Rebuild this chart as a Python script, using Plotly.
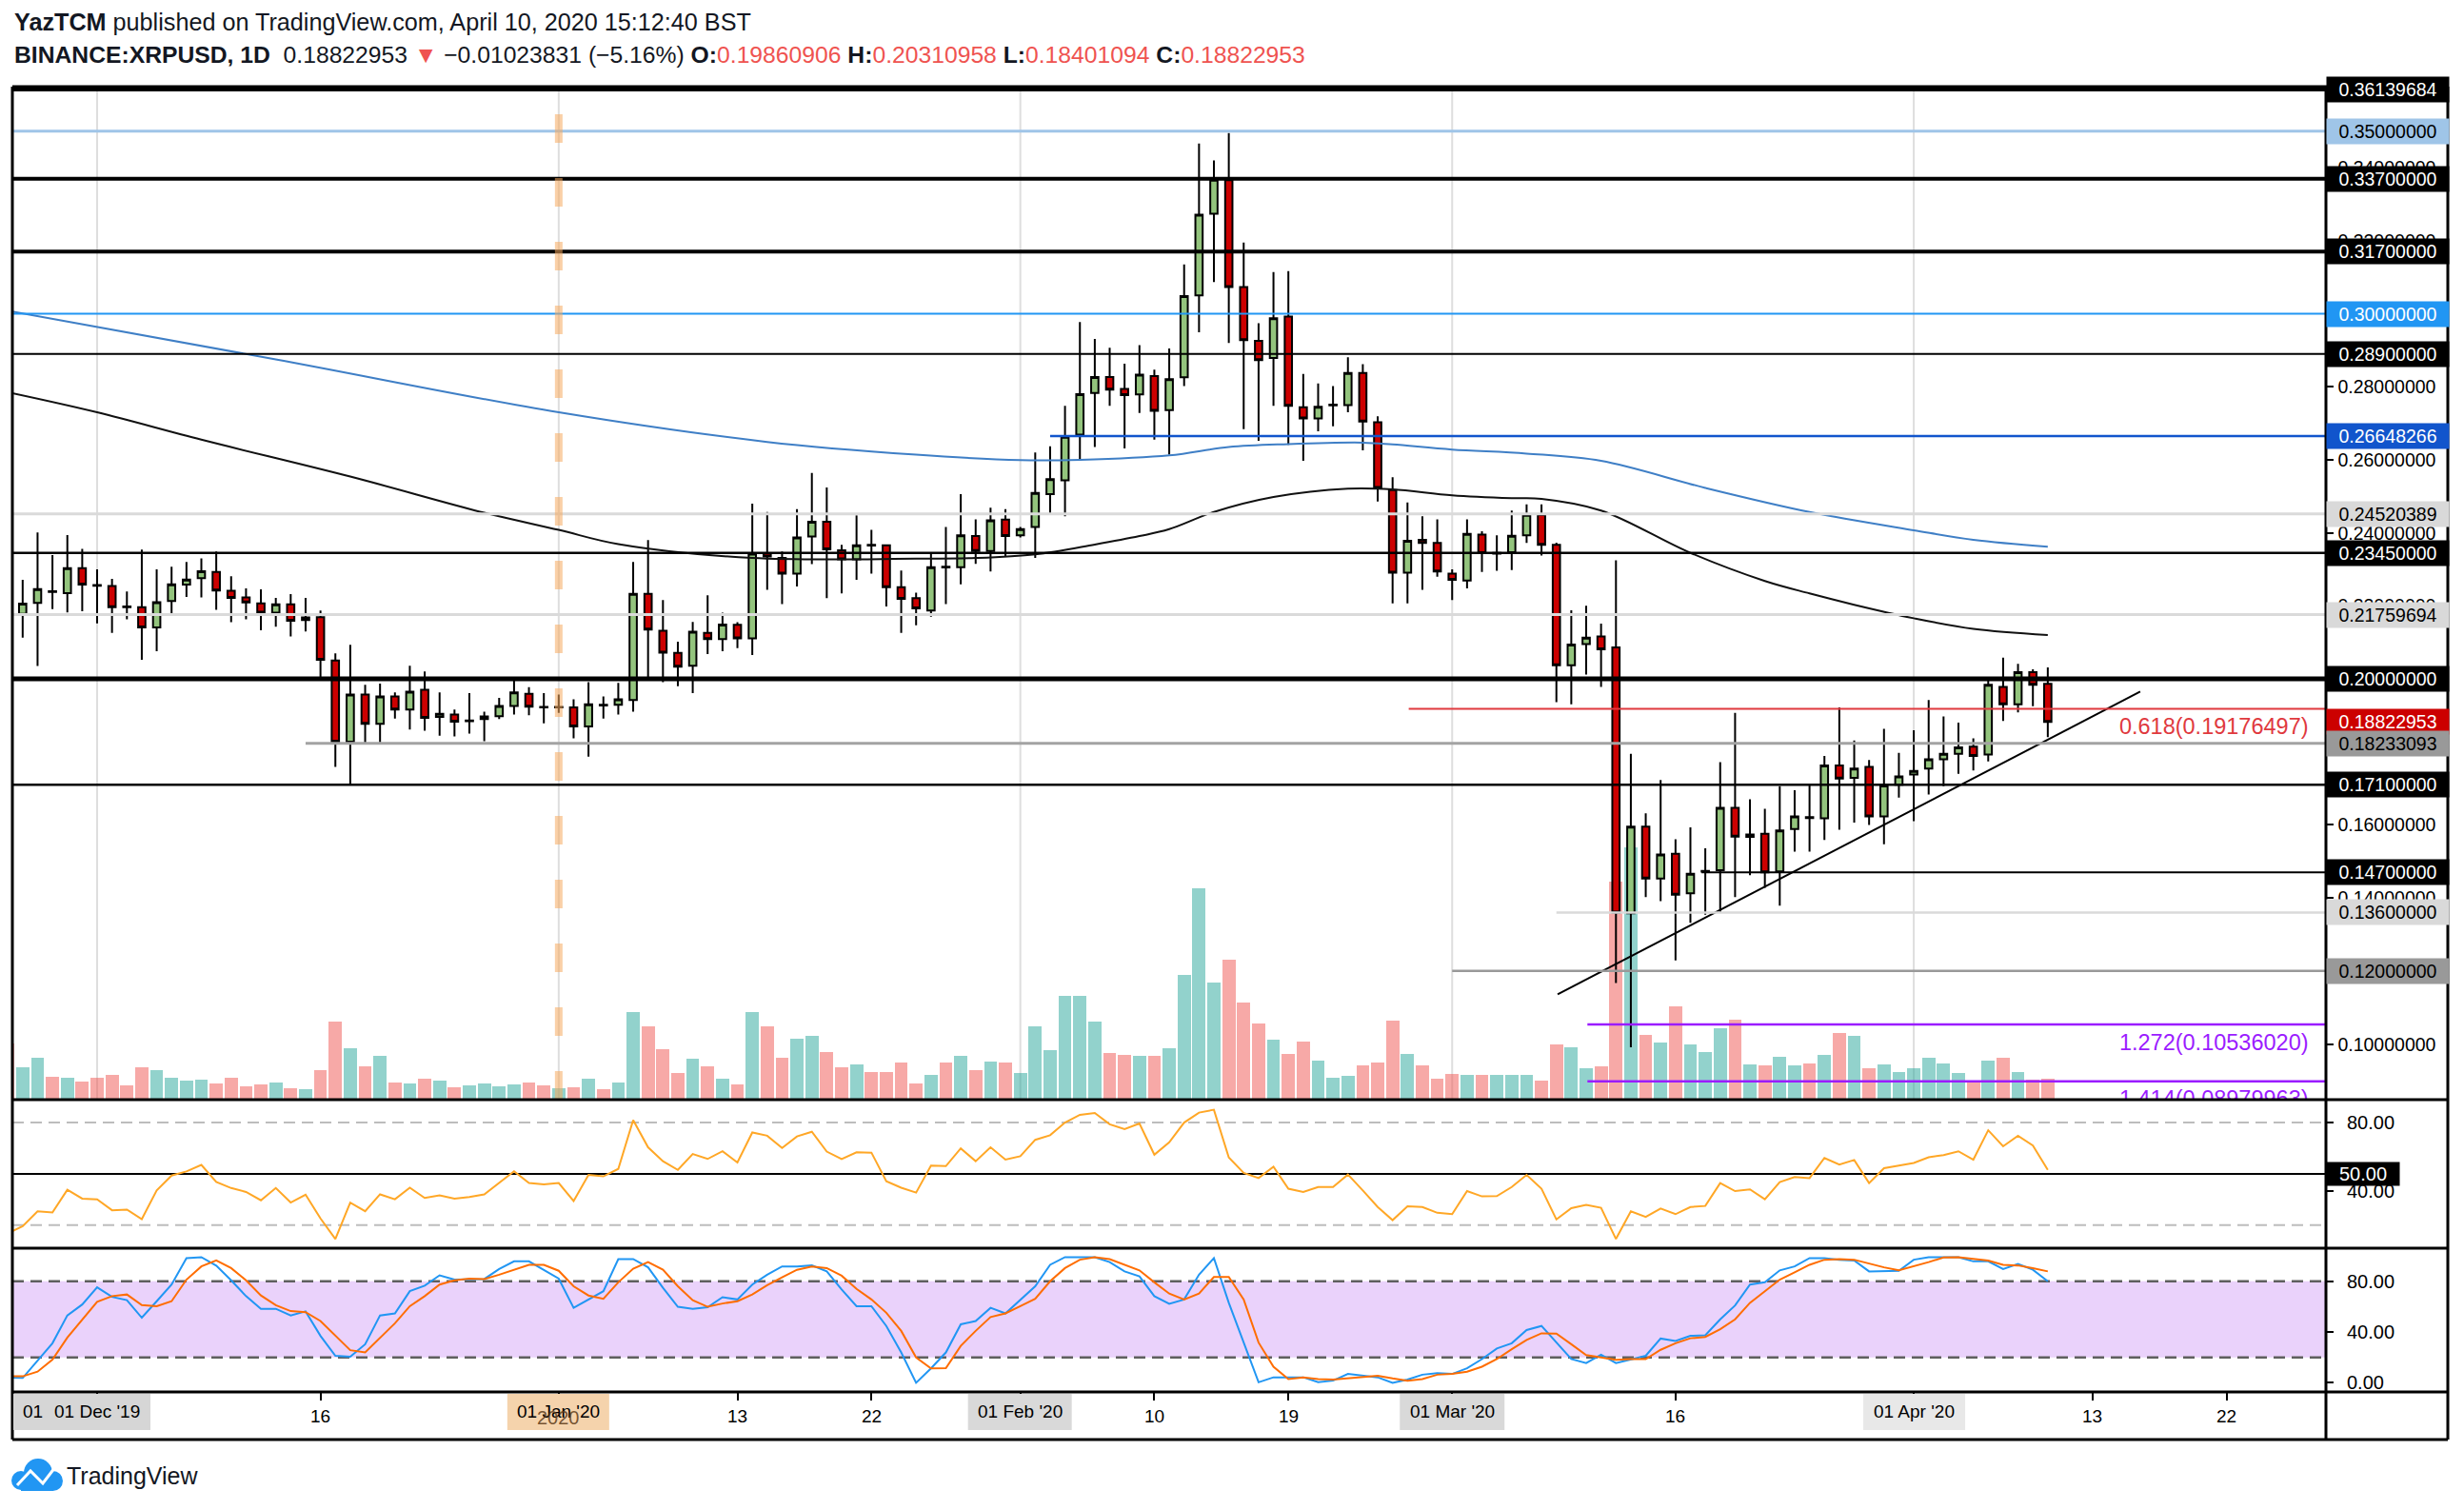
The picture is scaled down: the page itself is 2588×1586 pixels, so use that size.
import plotly.graph_objects as go
import pandas as pd

# ---------------- data ----------------
dates = pd.date_range("2019-11-25", "2020-04-10", freq="D")

opens = [0.2200, 0.2178, 0.2208, 0.2238, 0.2235, 0.2303,
         0.2257, 0.2254, 0.2198, 0.2196, 0.2141, 0.2213, 0.2258, 0.2276, 0.2293, 0.2241, 0.2223, 0.2207, 0.2181, 0.2204, 0.2161, 0.2169, 0.2050, 0.1828, 0.1957, 0.1877, 0.1952, 0.1916, 0.1970, 0.1896, 0.1902, 0.1886, 0.1890, 0.1898, 0.1926, 0.1959, 0.1923,
         0.1922, 0.1922, 0.1870, 0.1927, 0.1929, 0.1942, 0.2233, 0.2132, 0.2071, 0.2036, 0.2126, 0.2109, 0.2148, 0.2111, 0.2344, 0.2331, 0.2288, 0.2390, 0.2430, 0.2352, 0.2327, 0.2367, 0.2366, 0.2251, 0.2221, 0.2187, 0.2305, 0.2306, 0.2391, 0.2350, 0.2436,
         0.2393, 0.2416, 0.2506, 0.2544, 0.2669, 0.2783, 0.2827, 0.2794, 0.2779, 0.2829, 0.2736, 0.2826, 0.3050, 0.3274, 0.3366, 0.3073, 0.2926, 0.2879, 0.2992, 0.2744, 0.2713, 0.2749, 0.2750, 0.2838, 0.2703, 0.2517, 0.2291, 0.2381, 0.2372,
         0.2288, 0.2269, 0.2395, 0.2343, 0.2347, 0.2393, 0.2449, 0.2367, 0.2037, 0.2095, 0.2116, 0.2086, 0.1358, 0.1595, 0.1453, 0.1521, 0.1413, 0.1472, 0.1476, 0.1647, 0.1567, 0.1576, 0.1473, 0.1589, 0.1621, 0.1618, 0.1763, 0.1729, 0.1759, 0.1623, 0.1710,
         0.1738, 0.1754, 0.1780, 0.1795, 0.1814, 0.1793, 0.1978, 0.1930, 0.2018, 0.19860906]
highs = [0.2230, 0.2271, 0.2401, 0.2339, 0.2394, 0.2356,
         0.2300, 0.2274, 0.2239, 0.2354, 0.2300, 0.2307, 0.2320, 0.2330, 0.2349, 0.2281, 0.2248, 0.2245, 0.2222, 0.2232, 0.2222, 0.2187, 0.2070, 0.2093, 0.1984, 0.1987, 0.1963, 0.2036, 0.2020, 0.1963, 0.1916, 0.1961, 0.1910, 0.1948, 0.1996, 0.1977, 0.1961,
         0.1957, 0.1944, 0.1991, 0.1952, 0.1989, 0.2320, 0.2380, 0.2216, 0.2102, 0.2156, 0.2229, 0.2181, 0.2155, 0.2480, 0.2457, 0.2349, 0.2465, 0.2564, 0.2524, 0.2367, 0.2448, 0.2408, 0.2367, 0.2297, 0.2236, 0.2343, 0.2416, 0.2506, 0.2437, 0.2469, 0.2465,
         0.2416, 0.2620, 0.2637, 0.2748, 0.2977, 0.2931, 0.2907, 0.2863, 0.2914, 0.2847, 0.2905, 0.3135, 0.3466, 0.3420, 0.3495, 0.3195, 0.2974, 0.3114, 0.3117, 0.2835, 0.2809, 0.2802, 0.2881, 0.2862, 0.2719, 0.2552, 0.2483, 0.2445, 0.2437,
         0.2300, 0.2437, 0.2404, 0.2393, 0.2461, 0.2478, 0.2478, 0.2373, 0.2188, 0.2200, 0.2151, 0.2325, 0.1795, 0.1632, 0.1723, 0.1561, 0.1593, 0.1536, 0.1772, 0.1907, 0.1670, 0.1644, 0.1706, 0.1695, 0.1710, 0.1789, 0.1922, 0.1831, 0.1778, 0.1863, 0.1797,
         0.1859, 0.1942, 0.1897, 0.1880, 0.1837, 0.1995, 0.2058, 0.2041, 0.2026, 0.20310958]
lows = [0.2150, 0.2113, 0.2035, 0.2191, 0.2182, 0.2185,
        0.2152, 0.2126, 0.2163, 0.2052, 0.2076, 0.2178, 0.2224, 0.2223, 0.2189, 0.2155, 0.2163, 0.2133, 0.2143, 0.2116, 0.2130, 0.2004, 0.1759, 0.1711, 0.1824, 0.1826, 0.1891, 0.1861, 0.1858, 0.1844, 0.1842, 0.1850, 0.1829, 0.1890, 0.1902, 0.1900, 0.1878,
        0.1907, 0.1837, 0.1787, 0.1891, 0.1902, 0.1910, 0.2004, 0.1991, 0.1980, 0.1961, 0.2068, 0.2076, 0.2084, 0.2065, 0.2244, 0.2205, 0.2253, 0.2314, 0.2221, 0.2234, 0.2271, 0.2288, 0.2198, 0.2126, 0.2147, 0.2170, 0.2205, 0.2259, 0.2315, 0.2294, 0.2335,
        0.2387, 0.2331, 0.2453, 0.2445, 0.2597, 0.2635, 0.2748, 0.2631, 0.2728, 0.2655, 0.2614, 0.2802, 0.2949, 0.3087, 0.2920, 0.2684, 0.2652, 0.2748, 0.2641, 0.2597, 0.2678, 0.2692, 0.2730, 0.2626, 0.2486, 0.2207, 0.2207, 0.2244, 0.2280,
        0.2216, 0.2248, 0.2293, 0.2296, 0.2298, 0.2372, 0.2338, 0.1936, 0.1930, 0.2012, 0.1978, 0.1167, 0.0991, 0.1402, 0.1391, 0.1229, 0.1332, 0.1354, 0.1360, 0.1402, 0.1462, 0.1428, 0.1379, 0.1527, 0.1527, 0.1559, 0.1587, 0.1606, 0.1600, 0.1547, 0.1675,
        0.1610, 0.1683, 0.1706, 0.1740, 0.1749, 0.1774, 0.1885, 0.1908, 0.1925, 0.18401094]
closes = [0.2180, 0.2206, 0.2246, 0.2240, 0.2303, 0.2258,
          0.2255, 0.2196, 0.2196, 0.2141, 0.2210, 0.2259, 0.2272, 0.2295, 0.2242, 0.2222, 0.2209, 0.2181, 0.2204, 0.2159, 0.2168, 0.2052, 0.1828, 0.1957, 0.1877, 0.1952, 0.1916, 0.1965, 0.1893, 0.1904, 0.1883, 0.1884, 0.1897, 0.1926, 0.1963, 0.1924, 0.1922,
          0.1923, 0.1870, 0.1930, 0.1929, 0.1944, 0.2233, 0.2135, 0.2072, 0.2033, 0.2129, 0.2109, 0.2149, 0.2111, 0.2343, 0.2335, 0.2288, 0.2387, 0.2430, 0.2355, 0.2327, 0.2366, 0.2365, 0.2251, 0.2219, 0.2193, 0.2306, 0.2307, 0.2393, 0.2350, 0.2434, 0.2391,
          0.2410, 0.2509, 0.2547, 0.2663, 0.2780, 0.2827, 0.2792, 0.2777, 0.2833, 0.2734, 0.2821, 0.3048, 0.3271, 0.3367, 0.3073, 0.2928, 0.2873, 0.2988, 0.2748, 0.2713, 0.2745, 0.2751, 0.2838, 0.2705, 0.2523, 0.2291, 0.2378, 0.2372, 0.2294,
          0.2271, 0.2397, 0.2344, 0.2345, 0.2392, 0.2449, 0.2367, 0.2037, 0.2094, 0.2113, 0.2081, 0.1360, 0.1595, 0.1453, 0.1519, 0.1409, 0.1466, 0.1474, 0.1647, 0.1568, 0.1574, 0.1470, 0.1585, 0.1623, 0.1619, 0.1763, 0.1727, 0.1754, 0.1623, 0.1708, 0.1733,
          0.1748, 0.1780, 0.1795, 0.1812, 0.1789, 0.1984, 0.1930, 0.2018, 0.1984, 0.18822953]

# volume (arbitrary units) and bar direction (U = teal, D = red)
volumes = [59, 34, 44, 24, 23, 19,
           23, 26, 15, 34, 31, 23, 20, 21, 17, 23, 14, 16, 18, 12, 11, 31, 82, 54, 35, 46, 18, 17, 22, 20, 13, 15, 17, 14, 16, 18, 15,
           12, 13, 22, 11, 18, 92, 77, 53, 28, 43, 35, 22, 16, 92, 77, 44, 64, 67, 50, 34, 37, 29, 29, 39, 17, 26, 39, 46, 31, 40, 39,
           28, 77, 52, 109, 109, 82, 49, 47, 46, 46, 54, 131, 222, 123, 147, 102, 80, 63, 48, 61, 41, 23, 25, 36, 39, 83, 48, 36, 22,
           27, 26, 26, 26, 26, 26, 20, 58, 55, 33, 35, 229, 265, 68, 60, 98, 58, 50, 75, 84, 37, 36, 45, 36, 38, 47, 70, 67, 33, 37, 29,
           33, 44, 38, 28, 19, 41, 44, 29, 21, 22]
vol_dir = ("DUUDUD"
           "DDDDUUUUDDDDUDUDDUDUDUDUDUUUUDD"
           "UDUDUUDDDUDUDUDDUUDDUDDDDUDUDUD"
           "UUUUUUDDUDUUUUDDDUDDUUUDDDUDD"
           "DUDUUUDDUUDDUDUDUUUDUDUUDUDUDUU"
           "UUUUDUDUDD")

rsi = [15.2, 19.4, 28.1, 27.4, 40.7, 35.5,
       35.1, 28.7, 29.1, 23.5, 40.3, 49.0, 51.4, 55.2, 45.2, 41.7, 39.4, 34.5, 41.7, 33.2, 37.8, 23.9, 11.9, 33.2, 28.1, 38.0, 35.1, 41.9, 35.9, 37.4, 35.5, 36.5, 38.0, 44.6, 51.5, 44.6, 43.8,
       44.6, 34.1, 49.4, 48.5, 52.9, 81.4, 65.5, 57.4, 52.3, 61.6, 58.7, 63.2, 56.6, 74.2, 72.3, 65.1, 71.9, 74.6, 63.0, 58.7, 62.6, 62.4, 45.7, 41.9, 39.0, 54.8, 54.5, 64.9, 57.4, 65.5, 58.3,
       60.3, 69.9, 72.6, 80.0, 84.5, 85.6, 79.0, 76.1, 79.4, 61.2, 68.4, 80.0, 85.8, 87.5, 59.6, 50.6, 47.5, 54.2, 41.3, 39.4, 42.3, 42.3, 49.6, 40.3, 30.6, 22.9, 31.0, 30.6, 27.2,
       26.4, 39.9, 36.8, 37.0, 42.3, 49.4, 41.3, 23.3, 29.9, 31.8, 30.1, 11.9, 28.1, 24.8, 29.7, 26.4, 30.6, 31.2, 44.6, 39.9, 40.9, 35.1, 45.2, 48.1, 47.5, 59.3, 55.4, 58.1, 44.6, 53.3, 54.8,
       56.4, 59.7, 61.0, 63.2, 58.3, 75.5, 66.1, 72.3, 66.5, 52.3]

stoch_k = [4.3, 3.8, 17.4, 31.2, 53.1, 61.7,
           75.3, 67.7, 65.1, 51.3, 64.3, 77.4, 98.3, 99.0, 92.3, 80.8, 68.3, 58.3, 58.3, 53.1, 56.3, 37.0, 21.3, 20.5, 30.4, 53.1, 54.7, 72.2, 76.6, 84.7, 81.3, 81.8, 81.8, 89.7, 95.7, 95.7, 88.6,
           82.1, 59.1, 65.7, 72.2, 97.5, 97.5, 91.0, 74.8, 59.9, 58.3, 59.6, 67.5, 65.7, 77.4, 85.2, 91.7, 91.7, 92.5, 87.8, 73.5, 60.4, 60.4, 44.8, 23.9, 0.0, 11.4, 23.9, 46.1, 48.7, 59.1, 54.7,
           65.1, 76.1, 93.0, 99.0, 99.0, 99.0, 95.1, 87.8, 83.9, 68.3, 62.3, 65.7, 85.2, 98.3, 63.0, 31.7, 0.4, 4.3, 4.3, 4.3, 0.5, 1.7, 7.0, 5.6, 4.3, 0.0, 2.5, 6.4, 7.7,
           7.0, 11.4, 18.7, 27.0, 31.2, 41.6, 44.8, 31.7, 18.7, 15.6, 22.1, 15.6, 18.7, 21.3, 34.9, 33.0, 37.0, 37.5, 50.0, 61.0, 77.4, 79.2, 88.6, 91.7, 98.3, 98.3, 97.0, 96.4, 87.8, 88.3, 88.3,
           97.0, 99.0, 99.0, 99.0, 95.7, 95.7, 89.7, 93.6, 89.1, 80.0]
stoch_d = [5.1, 5.1, 8.8, 18.2, 35.6, 50.0,
           63.8, 68.3, 69.6, 61.2, 60.4, 64.3, 81.3, 91.7, 96.4, 90.4, 80.8, 68.8, 61.2, 56.5, 55.7, 48.7, 37.5, 25.7, 23.9, 35.6, 46.9, 60.4, 68.3, 77.4, 80.8, 82.1, 81.8, 85.2, 89.1, 93.0, 93.0,
           88.3, 76.1, 68.8, 66.2, 79.2, 89.9, 95.1, 89.1, 76.1, 65.1, 59.9, 62.5, 64.3, 69.6, 76.9, 83.1, 89.1, 91.7, 90.4, 84.4, 74.0, 65.7, 55.2, 40.9, 20.0, 11.4, 11.6, 29.1, 40.9, 51.8, 54.7,
           60.4, 66.2, 80.0, 90.4, 97.0, 99.0, 97.5, 93.0, 88.6, 79.2, 70.3, 65.7, 70.3, 83.4, 83.4, 65.7, 31.7, 12.7, 3.0, 4.3, 3.0, 2.5, 3.5, 4.9, 5.6, 3.5, 1.7, 3.0, 6.4,
           7.0, 8.8, 12.7, 18.7, 26.5, 33.8, 39.0, 38.8, 30.4, 21.8, 20.0, 18.2, 18.7, 18.7, 26.0, 31.2, 35.1, 36.2, 42.2, 50.0, 63.0, 72.2, 81.3, 87.0, 93.0, 97.0, 97.5, 97.0, 93.8, 91.0, 88.6,
           91.7, 95.1, 98.8, 99.0, 97.7, 96.4, 93.0, 92.5, 90.4, 87.8]

ma100_dates = ["2019-11-25", "2019-12-01", "2019-12-08", "2019-12-18", "2019-12-27", "2020-01-01", "2020-01-05",
               "2020-01-14", "2020-01-25", "2020-01-29", "2020-02-02", "2020-02-06", "2020-02-09", "2020-02-11",
               "2020-02-14", "2020-02-18", "2020-02-23", "2020-02-26", "2020-03-01", "2020-03-05", "2020-03-07",
               "2020-03-11", "2020-03-17", "2020-03-22", "2020-03-25", "2020-03-28", "2020-04-01", "2020-04-05", "2020-04-10"]
ma100_vals = [0.2785, 0.2730, 0.2655, 0.2554, 0.2455, 0.2408, 0.2369, 0.2331, 0.2329, 0.2331, 0.2341, 0.2368, 0.2391,
              0.2410, 0.2457, 0.2498, 0.2521, 0.2519, 0.2503, 0.2495, 0.2493, 0.2461, 0.2345, 0.2268, 0.2234, 0.2203,
              0.2166, 0.2137, 0.2120]
ma200_dates = ["2019-11-25", "2019-12-13", "2020-01-01", "2020-01-15", "2020-01-25", "2020-02-01", "2020-02-05",
               "2020-02-11", "2020-02-15", "2020-02-19", "2020-02-24", "2020-02-26", "2020-03-01", "2020-03-06",
               "2020-03-11", "2020-03-18", "2020-03-25", "2020-04-01", "2020-04-05", "2020-04-10"]
ma200_vals = [0.3008, 0.2875, 0.2730, 0.2649, 0.2614, 0.2599, 0.2600, 0.2612, 0.2635, 0.2643, 0.2647, 0.2642, 0.2628,
              0.2617, 0.2597, 0.2523, 0.2457, 0.2407, 0.2381, 0.2362]

trend_dates = ["2020-03-08 02:00", "2020-04-16 05:00"]
trend_vals = [0.1136, 0.1965]

# horizontal levels: value, start date (None = full width)
level_values = [0.36139684, 0.35, 0.337, 0.317, 0.30, 0.289, 0.26648266, 0.24520389, 0.2345, 0.21759694,
                0.20, 0.18233093, 0.171, 0.147, 0.136, 0.12]
level_starts = [None, None, None, None, None, None, "2020-02-03", None, None, None,
                None, "2019-12-15", None, "2020-03-17 18:00", "2020-03-08", "2020-03-01"]

fib_values = [0.19176497, 0.10536020, 0.08979963]
fib_labels = ["0.618(0.19176497)", "1.272(0.10536020)", "1.414(0.08979963)"]
fib_starts = ["2020-02-27 02:00", "2020-03-10 02:00", "2020-03-10 02:00"]

price_ticks = [0.34, 0.32, 0.28, 0.26, 0.24, 0.22, 0.16, 0.14, 0.10]
box_values = [0.36139684, 0.35, 0.337, 0.317, 0.30, 0.289, 0.26648266, 0.24520389, 0.2345, 0.21759694,
              0.20, 0.18822953, 0.18233093, 0.171, 0.147, 0.136, 0.12]

x_tick_dates = ["2019-12-01", "2019-12-16", "2020-01-01", "2020-01-13", "2020-01-22", "2020-02-01",
                "2020-02-10", "2020-02-19", "2020-03-01", "2020-03-16", "2020-04-01", "2020-04-13", "2020-04-22"]
x_tick_labels = ["01 Dec '19", "16", "01 Jan '20", "13", "22", "01 Feb '20", "10", "19", "01 Mar '20", "16",
                 "01 Apr '20", "13", "22"]

# ---------------- styling helpers ----------------
W, H = 2588, 1586
L, R, T, B = 13, 2443, 91, 1462
PX_PER_PRICE = 3835.0


def px(X):
    return (X - L) / (R - L)


def py(Y):
    return (B - Y) / (B - T)


FONT = "Liberation Sans, Arial, sans-serif"
TXT = "#131722"
XR = ["2019-11-25 07:25", "2020-04-28 16:20"]

fig = go.Figure()

# volume (base axis, drawn below)
vol_colors = ["rgba(38,166,154,0.5)" if d == "U" else "rgba(239,83,80,0.5)" for d in vol_dir]
fig.add_trace(go.Bar(x=dates, y=volumes, marker=dict(color=vol_colors, line_width=0),
                     width=0.88 * 86400000, yaxis="y", xaxis="x", showlegend=False, hoverinfo="skip"))

# moving averages
fig.add_trace(go.Scatter(x=ma200_dates, y=ma200_vals, mode="lines", line=dict(color="#3f7fc6", width=2, shape="spline"),
                         yaxis="y2", showlegend=False, hoverinfo="skip"))
fig.add_trace(go.Scatter(x=ma100_dates, y=ma100_vals, mode="lines", line=dict(color="#111111", width=2, shape="spline"),
                         yaxis="y2", showlegend=False, hoverinfo="skip"))

# candles
fig.add_trace(go.Candlestick(x=dates, open=opens, high=highs, low=lows, close=closes, yaxis="y2", xaxis="x",
                             increasing=dict(line=dict(color="black", width=2), fillcolor="#93c47d"),
                             decreasing=dict(line=dict(color="black", width=2), fillcolor="#cc0000"),
                             whiskerwidth=0, showlegend=False, hoverinfo="skip"))

# trend line
fig.add_trace(go.Scatter(x=trend_dates, y=trend_vals, mode="lines", line=dict(color="black", width=2),
                         yaxis="y2", showlegend=False, hoverinfo="skip"))

# fib labels (clipped by the price pane), placed just under their lines
fib_colors = ["#e0393e", "#9b1cff", "#9b1cff"]
fib_label_y = [v - 9 / PX_PER_PRICE for v in fib_values]
fig.add_trace(go.Scatter(x=["2020-04-27 12:00"] * 3, y=fib_label_y, mode="text", text=fib_labels,
                         textposition="bottom left", textfont=dict(family=FONT, size=23.5, color=fib_colors),
                         yaxis="y2", showlegend=False, hoverinfo="skip", cliponaxis=True))

# RSI
fig.add_trace(go.Scatter(x=dates, y=rsi, mode="lines", line=dict(color="#ffa726", width=2),
                         yaxis="y3", showlegend=False, hoverinfo="skip"))
# Stoch RSI
fig.add_trace(go.Scatter(x=dates, y=stoch_k, mode="lines", line=dict(color="#2196f3", width=2),
                         yaxis="y4", showlegend=False, hoverinfo="skip"))
fig.add_trace(go.Scatter(x=dates, y=stoch_d, mode="lines", line=dict(color="#ff6d00", width=2),
                         yaxis="y4", showlegend=False, hoverinfo="skip"))

shapes = []
# stoch band
shapes.append(dict(type="rect", xref="paper", x0=0, x1=1, yref="y4", y0=20, y1=80,
                   fillcolor="#ead2fb", line_width=0, layer="below"))
# month gridlines in the price pane
for d in ["2019-12-01", "2020-01-01", "2020-02-01", "2020-03-01", "2020-04-01"]:
    shapes.append(dict(type="line", xref="x", x0=d, x1=d, yref="paper", y0=py(1155), y1=1,
                       line=dict(color="#dedede", width=2), layer="below"))

level_styles = [("black", 4), ("#9fc5e8", 3), ("black", 4), ("black", 4), ("#2196f3", 2), ("black", 2),
                ("#1155cc", 2.5), ("#dadada", 3), ("black", 2.5), ("#dadada", 3), ("black", 5),
                ("#a3a3a3", 3), ("black", 2.5), ("black", 2), ("#dadada", 2.5), ("#999999", 2.5)]
for v, s, (c, w) in zip(level_values, level_starts, level_styles):
    if s is None:
        shapes.append(dict(type="line", xref="paper", x0=0, x1=1, yref="y2", y0=v, y1=v,
                           line=dict(color=c, width=w), layer="above"))
    else:
        shapes.append(dict(type="line", xref="x", x0=s, x1=XR[1], yref="y2", y0=v, y1=v,
                           line=dict(color=c, width=w), layer="above"))
for v, s, c in zip(fib_values, fib_starts, ["#e0393e", "#9b1cff", "#9b1cff"]):
    shapes.append(dict(type="line", xref="x", x0=s, x1=XR[1], yref="y2", y0=v, y1=v,
                       line=dict(color=c, width=2.5 if c != "#e0393e" else 2), layer="above"))

# orange dashed vertical (year separator)
shapes.append(dict(type="line", xref="x", x0="2020-01-01", x1="2020-01-01", yref="paper", y0=py(1155), y1=py(93),
                   line=dict(color="rgba(245,170,95,0.55)", width=8, dash="30px,37px"), layer="above"))

# RSI guide lines
for v in [80, 20]:
    shapes.append(dict(type="line", xref="paper", x0=0, x1=1, yref="y3", y0=v, y1=v,
                       line=dict(color="#bdbdbd", width=2, dash="12px,7px"), layer="below"))
shapes.append(dict(type="line", xref="paper", x0=0, x1=1, yref="y3", y0=50, y1=50,
                   line=dict(color="black", width=2), layer="below"))
for v in [80, 20]:
    shapes.append(dict(type="line", xref="paper", x0=0, x1=1, yref="y4", y0=v, y1=v,
                       line=dict(color="#5f5f5f", width=2.5, dash="12px,7px"), layer="below"))

# frame / pane borders
BL = dict(color="black", width=3)
for Y in [91, 1155, 1311, 1462, 1512]:
    shapes.append(dict(type="line", xref="paper", yref="paper", x0=px(13), x1=px(2571), y0=py(Y), y1=py(Y), line=BL, layer="above"))
for X in [13, 2443, 2571]:
    shapes.append(dict(type="line", xref="paper", yref="paper", x0=px(X), x1=px(X), y0=py(91), y1=py(1512), line=BL, layer="above"))

# x-axis label boxes
box_specs = [("2019-12-01", -88, 56, "#d6d6d6"), ("2020-01-01", -54, 53, "#f5d3ac"),
             ("2020-02-01", -55, 54, "#d9d9d9"), ("2020-03-01", -55, 55, "#d9d9d9"),
             ("2020-04-01", -53, 54, "#e8e8e8")]
for d, a, b, c in box_specs:
    shapes.append(dict(type="rect", xref="x", xsizemode="pixel", xanchor=d, x0=a, x1=b,
                       yref="paper", y0=py(1502), y1=py(1464), fillcolor=c, line_width=0, layer="above"))

# TradingView logo icon
LOGO = "#2196f3"
for (x0, y0, x1, y1) in [(12, 1545, 32, 1565), (25, 1532, 55, 1562), (45, 1545, 66, 1566)]:
    shapes.append(dict(type="circle", xref="paper", yref="paper", x0=px(x0), x1=px(x1), y0=py(y1), y1=py(y0),
                       fillcolor=LOGO, line_width=0))
shapes.append(dict(type="rect", xref="paper", yref="paper", x0=px(22), x1=px(56), y0=py(1566), y1=py(1552),
                   fillcolor=LOGO, line_width=0))
pts = [(18, 1560), (32, 1545), (45, 1558), (58, 1541)]
path = "M " + " L ".join(f"{px(a):.5f},{py(b):.5f}" for a, b in pts)
shapes.append(dict(type="path", xref="paper", yref="paper", path=path, line=dict(color="white", width=3)))

annotations = []
# header
annotations.append(dict(xref="paper", yref="paper", x=px(13), y=py(23), xanchor="left", yanchor="middle",
                        showarrow=False, font=dict(family=FONT, size=25.2, color=TXT),
                        text="<b>YazTCM</b> published on TradingView.com, April 10, 2020 15:12:40 BST"))
red = "#ef5350"
annotations.append(dict(xref="paper", yref="paper", x=px(13), y=py(57), xanchor="left", yanchor="middle",
                        showarrow=False, font=dict(family=FONT, size=24.7, color=TXT),
                        text=("<b>BINANCE:XRPUSD, 1D</b>  0.18822953 <span style='color:%s'>▼</span> −0.01023831 (−5.16%%) "
                              "<b>O:</b><span style='color:%s'>0.19860906</span> <b>H:</b><span style='color:%s'>0.20310958</span> "
                              "<b>L:</b><span style='color:%s'>0.18401094</span> <b>C:</b><span style='color:%s'>0.18822953</span>")
                        % (red, red, red, red, red)))

AF = 19.5
# price axis plain labels (partly covered by the level boxes, as in the original)
for v in price_ticks:
    annotations.append(dict(xref="paper", yref="y2", x=1, y=v, xanchor="left", yanchor="middle", showarrow=False,
                            width=124, align="center", font=dict(family=FONT, size=AF, color="black"),
                            text=f"{v:.8f}"))
box_styles = [("black", "white"), ("#9fc5e8", "black"), ("black", "white"), ("black", "white"),
              ("#2196f3", "white"), ("black", "white"), ("#1155cc", "white"), ("#d9d9d9", "black"),
              ("black", "white"), ("#d9d9d9", "black"), ("black", "white"), ("#cc0000", "white"),
              ("#999999", "black"), ("black", "white"), ("black", "white"), ("#d9d9d9", "black"),
              ("#999999", "black")]
for v, (bg, fg) in zip(box_values, box_styles):
    annotations.append(dict(xref="paper", yref="y2", x=1, y=v, xanchor="left", yanchor="middle", showarrow=False,
                            width=124, height=22, borderpad=2, bgcolor=bg, align="center",
                            font=dict(family=FONT, size=AF, color=fg), text=f"{v:.8f}"))
# RSI / stoch axis labels
for v in [80, 40]:
    annotations.append(dict(xref="paper", yref="y3", x=1, y=v, xanchor="left", yanchor="middle", showarrow=False,
                            xshift=20, font=dict(family=FONT, size=20, color="black"), text=f"{v:.2f}"))
annotations.append(dict(xref="paper", yref="y3", x=1, y=50, xanchor="left", yanchor="middle", showarrow=False,
                        width=72, height=20, borderpad=2, bgcolor="black", align="center",
                        font=dict(family=FONT, size=20, color="white"), text="50.00"))
for v in [80, 40, 0]:
    annotations.append(dict(xref="paper", yref="y4", x=1, y=v, xanchor="left", yanchor="middle", showarrow=False,
                            xshift=20, font=dict(family=FONT, size=20, color="black"), text=f"{v:.2f}"))

# x axis labels
XF = 19
annotations.append(dict(xref="x", yref="paper", x="2019-11-26 17:00", y=py(1482), yanchor="middle", showarrow=False,
                        font=dict(family=FONT, size=XF, color="black"), text="01"))
for d, lab in zip(x_tick_dates, x_tick_labels):
    boxed = lab.startswith("01")
    annotations.append(dict(xref="x", yref="paper", x=d, y=py(1482 if boxed else 1487), yanchor="middle",
                            showarrow=False, font=dict(family=FONT, size=XF, color="black"), text=lab))
annotations.append(dict(xref="x", yref="paper", x="2020-01-01", y=py(1489), yanchor="middle", showarrow=False,
                        font=dict(family=FONT, size=20, color="rgba(95,60,25,0.85)"), text="2020"))
# logo text
annotations.append(dict(xref="paper", yref="paper", x=px(68), y=py(1550), xanchor="left", yanchor="middle",
                        showarrow=False, font=dict(family=FONT, size=25, color=TXT), text="TradingView"))

fig.update_layout(
    width=W, height=H, margin=dict(l=L, r=W - R, t=T, b=H - B),
    paper_bgcolor="white", plot_bgcolor="white", showlegend=False, bargap=0,
    xaxis=dict(type="date", range=XR, anchor="y4", showgrid=False, zeroline=False, showline=False,
               rangeslider=dict(visible=False), ticks="outside", ticklen=8, tickwidth=2, tickcolor="black",
               tickvals=x_tick_dates, showticklabels=False),
    yaxis=dict(domain=[py(1155), 1], range=[0, 1064], showgrid=False, zeroline=False, showticklabels=False, fixedrange=True),
    yaxis2=dict(overlaying="y", side="right", range=[0.08475, 0.3622], showgrid=False, zeroline=False,
                showticklabels=False, ticks="outside", ticklen=7, tickcolor="black", tickwidth=2,
                tickvals=price_ticks),
    yaxis3=dict(domain=[py(1311), py(1155)], range=[6.5, 93.4], side="right", showgrid=False, zeroline=False,
                showticklabels=False, ticks="outside", ticklen=7, tickcolor="black", tickwidth=2, tickvals=[80, 40]),
    yaxis4=dict(domain=[0, py(1311)], range=[-7.2, 106.1], side="right", showgrid=False, zeroline=False,
                showticklabels=False, ticks="outside", ticklen=7, tickcolor="black", tickwidth=2, tickvals=[80, 40, 0]),
    shapes=shapes, annotations=annotations,
)

fig.write_html("out.html")
